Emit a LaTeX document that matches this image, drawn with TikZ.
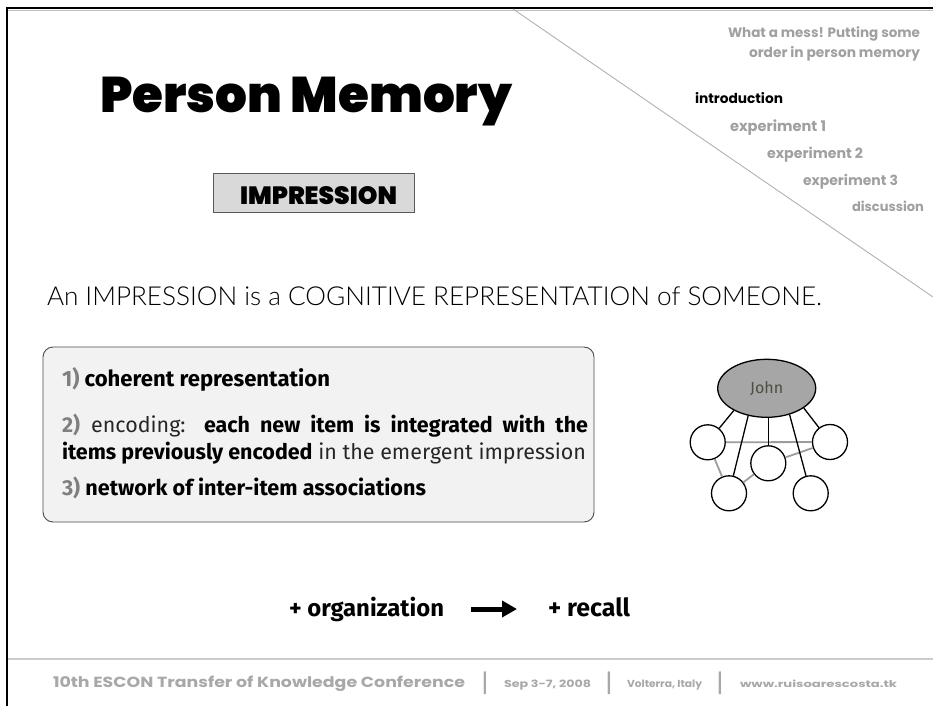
\documentclass[tikz,border=0pt]{standalone}
\usepackage{fontspec}
\usepackage{graphicx}
\setmainfont{Lato}
\newfontfamily\poppins{Poppins}
\newfontfamily\poppinsblack{Poppins Black}
\newfontfamily\fira{Fira Sans}
\newfontfamily\latolight{Lato Light}
\usetikzlibrary{arrows.meta,shapes.geometric}
\definecolor{menugray}{HTML}{A0A0A0}
\definecolor{footgray}{HTML}{A8A8A8}
\definecolor{numgray}{HTML}{7F7F7F}
\definecolor{boxfill}{HTML}{F2F2F2}
\definecolor{impfill}{HTML}{D9D9D9}
\definecolor{johnfill}{HTML}{A6A6A6}
\definecolor{linkgray}{HTML}{9C9C9C}
\definecolor{plaintext}{HTML}{262626}
\definecolor{johntext}{HTML}{4D4D40}
\newcommand\fitw[2]{\resizebox{#1}{!}{#2}}
\newlength\lineBw
\newsavebox\measbox
\sbox\measbox{\fira\fontsize{17.5}{20}\selectfont\textbf{items previously encoded} in the emergent impression}
\setlength\lineBw{\wd\measbox}
\pgfmathsetmacro\kk{524/\lineBw}
\pgfmathsetmacro\wwtwo{526/\kk}
\begin{document}
\begin{tikzpicture}[x=1pt,y=-1pt,
  txt/.style={inner sep=0pt, outer sep=0pt},
  menu/.style={txt, anchor=base west, text=menugray, font=\poppins\bfseries},
  item/.style={circle, draw=black, line width=1.3pt, fill=white, minimum size=35pt, inner sep=0pt},
  spoke/.style={line width=1.3pt, black},
  assoc/.style={line width=1.8pt, linkgray},
  foot/.style={txt, anchor=base west, text=footgray, font=\poppins\bfseries},
  bar/.style={txt, anchor=base, text=footgray, font=\fontsize{24}{24}\selectfont\bfseries},
  boxline/.style={txt, anchor=base west, font=\fira\fontsize{17.5}{20}\selectfont},
]
\useasboundingbox (0,0) rectangle (933,706);
\fill[white] (0,0) rectangle (933,706);
% frame
\draw[gray!50, line width=0.8pt] (8,10) -- (933,10);
\draw[black, line width=2.6pt, line join=miter] (7,706) -- (7,8) -- (933,8);
\draw[gray!60, line width=0.9pt] (513,9) -- (933,297);
\draw[gray!40, line width=1.2pt] (8,659) -- (933,659);

% title
\node[txt, anchor=base west] (title) at (100,112) {\fitw{412pt}{\poppinsblack Person Memory}};
\node[draw=gray!70!black, fill=impfill, line width=0.8pt, minimum width=201pt, minimum height=39pt, inner sep=0pt] (impbox) at (314,192.5) {};
\node[txt, anchor=base west] (implabel) at (240,204) {\fitw{157pt}{\poppinsblack IMPRESSION}};

% menu
\node[menu, anchor=base east] (m1) at (920,37.5) {\fitw{192pt}{What a mess! Putting some}};
\node[menu, anchor=base east] (m2) at (920,57.5) {\fitw{171pt}{order in person memory}};
\node[menu, text=black] (m3) at (695,104) {\fitw{88pt}{introduction}};
\node[menu] (m4) at (730,131.5) {\fitw{96pt}{experiment 1}};
\node[menu] (m5) at (767,158.5) {\fitw{96pt}{experiment 2}};
\node[menu] (m6) at (803,185.5) {\fitw{95pt}{experiment 3}};
\node[menu] (m7) at (852,211.5) {\fitw{72pt}{discussion}};

% main sentence
\node[txt, anchor=base west, text=black] (sentence) at (47,305) {\fitw{775pt}{\latolight An IMPRESSION is a COGNITIVE REPRESENTATION of SOMEONE.}};

% panel
\node[draw=gray!60!black, fill=boxfill, line width=0.9pt, rounded corners=10pt, minimum width=551pt, minimum height=175pt, inner sep=0pt] (panel) at (318.5,434.5) {};
\node[txt, anchor=base west] (p1) at (62,386) {\fitw{268pt}{\fira\bfseries\textcolor{numgray}{1)} coherent representation}};
\node[boxline] (p2) at (62,432) {\scalebox{\kk}{\makebox[\wwtwo pt][s]{\textcolor{numgray}{\bfseries 2)} \textcolor{plaintext}{encoding:} \bfseries each new item is integrated with the}}};
\node[boxline] (p2b) at (62,459) {\scalebox{\kk}{\textbf{items previously encoded} \textcolor{plaintext}{in the emergent impression}}};
\node[txt, anchor=base west] (p3) at (62,495) {\fitw{364pt}{\fira\bfseries\textcolor{numgray}{3)} network of inter-item associations}};

% network
\node[ellipse, draw=black, fill=johnfill, line width=1.3pt, minimum width=98pt, minimum height=58pt, inner sep=0pt] (john) at (766.7,388.3) {\fira\fontsize{16}{16}\selectfont\textcolor{johntext}{John}};
\node[item] (c1) at (707.7,442.3) {};
\node[item] (c2) at (830,442) {};
\node[item] (c3) at (768.3,463.3) {};
\node[item] (c4) at (729,493.3) {};
\node[item] (c5) at (810.7,493.3) {};
\draw[assoc] (c1) -- (c2);
\draw[assoc] (c1) -- (c4);
\draw[assoc] (c4) -- (c3);
\draw[assoc] (c3) -- (c2);
\draw[spoke] (john.214) -- (c1);
\draw[spoke] (john.236) -- (c4);
\draw[spoke] (john.south -| c3) -- (c3);
\draw[spoke] (john.311) -- (c5);
\draw[spoke] (john.332) -- (c2);

% conclusion
\node[txt, anchor=base west] (org) at (289,616) {\fitw{155pt}{\fira\bfseries + organization}};
\node[txt, anchor=base west] (rec) at (548,616) {\fitw{82pt}{\fira\bfseries + recall}};
\coordinate (a1) at (471,609);
\coordinate (a2) at (517,609);
\draw[line width=5pt, -{Triangle[length=15pt,width=16pt]}] (a1) -- (a2);

% footer
\node[foot] (f1) at (53,687) {\resizebox{412pt}{11.5pt}{10th ESCON Transfer of Knowledge Conference}};
\node[bar] (b1) at (485,690) {|};
\node[foot] (f2) at (504,687) {\resizebox{87pt}{7.5pt}{Sep 3-7, 2008}};
\node[bar] (b2) at (609,690) {|};
\node[foot] (f3) at (627,687) {\resizebox{75pt}{7.5pt}{Volterra, Italy}};
\node[bar] (b3) at (720,690) {|};
\node[foot] (f4) at (740,687) {\resizebox{157pt}{7.5pt}{www.ruisoarescosta.tk}};
\end{tikzpicture}
\end{document}
